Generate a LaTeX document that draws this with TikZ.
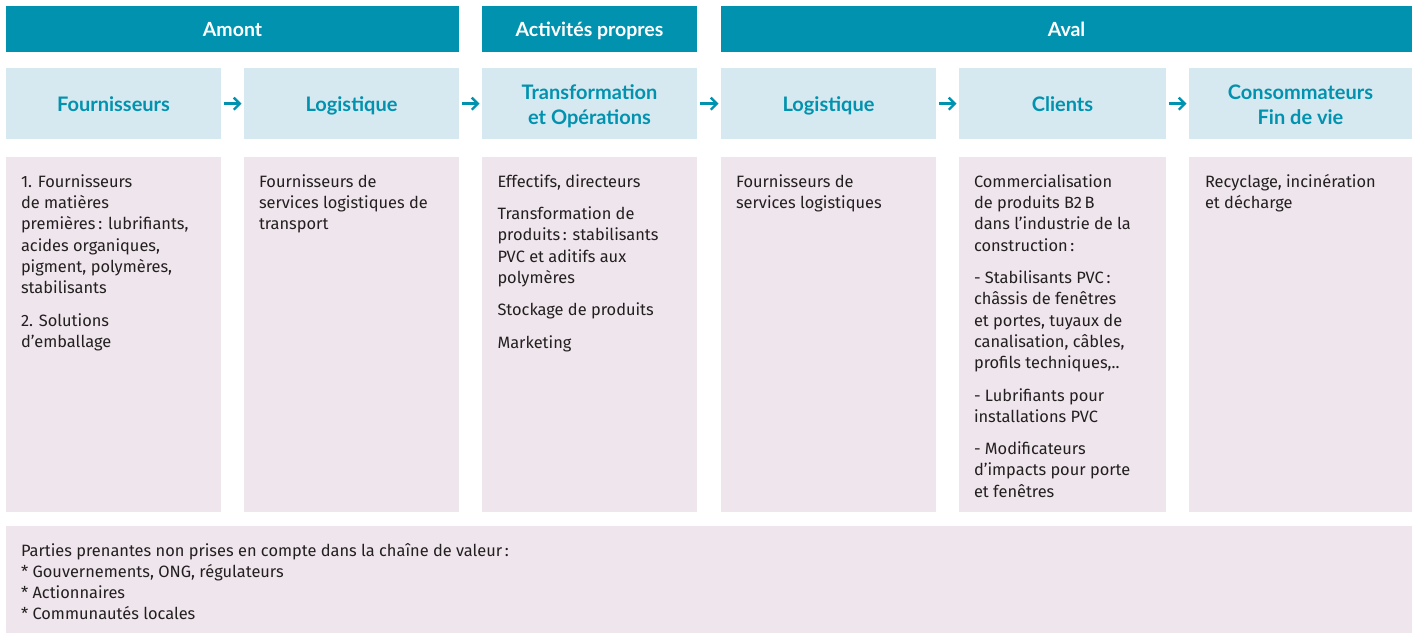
\documentclass[tikz,border=0pt]{standalone}
\usepackage{fontspec}
\setmainfont{Lato}
\newfontfamily\bodyfont{Fira Sans}
\usetikzlibrary{arrows.meta}
\definecolor{tealc}{RGB}{0,146,174}
\definecolor{headbg}{RGB}{214,232,240}
\definecolor{bodybg}{RGB}{239,229,236}
\definecolor{txt}{RGB}{35,31,32}
\tikzset{
  box/.style={inner sep=0pt, outer sep=0pt, anchor=north west},
  barbox/.style={box, fill=tealc, text=white, text height=16pt, text depth=0pt,
     font=\bfseries\fontsize{19.5}{24}\selectfont},
  headbox/.style={box, fill=headbg},
  headtext/.style={inner sep=0pt, outer sep=0pt, text=tealc, align=center, yshift=-3.2pt,
     font=\bfseries\fontsize{20}{25}\selectfont},
  bodybox/.style={box, fill=bodybg},
  bodytext/.style={inner sep=0pt, outer sep=0pt, anchor=north west, align=left, text=txt,
     font=\bodyfont\fontsize{16.4}{21.3}\selectfont, execute at begin node=\strut},
  arr/.style={draw=tealc, line width=2.4pt, -{Straight Barb[length=6pt,width=12pt,line width=2.4pt]},
     shorten <=2.5pt, shorten >=2.5pt}
}
\begin{document}
\begin{tikzpicture}[x=1pt,y=-1pt]
\useasboundingbox (0,0) rectangle (1416,633);
% top bars
\node[barbox, minimum width=453pt, minimum height=46pt] (amont) at (6,5.7) {Amont};
\node[barbox, minimum width=215pt, minimum height=46pt] (act) at (482,5.7) {Activités propres};
\node[barbox, minimum width=691pt, minimum height=46pt] (aval) at (721,5.7) {Aval};
% header row
\node[headbox, minimum width=215pt, minimum height=71.3pt, label={[headtext]center:\strut Fournisseurs}] (h1) at (6,68) {};
\node[headbox, minimum width=215pt, minimum height=71.3pt, label={[headtext]center:\strut Logistique}] (h2) at (244,68) {};
\node[headbox, minimum width=215pt, minimum height=71.3pt, label={[headtext]center:\strut Transformation\\\strut et Opérations}] (h3) at (482,68) {};
\node[headbox, minimum width=215pt, minimum height=71.3pt, label={[headtext]center:\strut Logistique}] (h4) at (721,68) {};
\node[headbox, minimum width=207pt, minimum height=71.3pt, label={[headtext]center:\strut Clients}] (h5) at (959,68) {};
\node[headbox, minimum width=223pt, minimum height=71.3pt, label={[headtext]center:\strut Consommateurs\\\strut Fin de vie}] (h6) at (1189,68) {};
% arrows
\draw[arr] (h1) -- (h2);
\draw[arr] (h2) -- (h3);
\draw[arr] (h3) -- (h4);
\draw[arr] (h4) -- (h5);
\draw[arr] (h5) -- (h6);
% body boxes
\node[bodybox, minimum width=215pt, minimum height=355pt] (b1) at (6,157) {};
\node[bodybox, minimum width=215pt, minimum height=355pt] (b2) at (244,157) {};
\node[bodybox, minimum width=215pt, minimum height=355pt] (b3) at (482,157) {};
\node[bodybox, minimum width=215pt, minimum height=355pt] (b4) at (721,157) {};
\node[bodybox, minimum width=207pt, minimum height=355pt] (b5) at (959,157) {};
\node[bodybox, minimum width=223pt, minimum height=355pt] (b6) at (1189,157) {};
\node[bodybox, minimum width=1406pt, minimum height=106.5pt] (bot) at (6,526) {};
% body texts
\node[bodytext] (t1) at ([shift={(15,17.5)}]b1.north west) {1. Fournisseurs\\de matières\\premières\,: lubrifiants,\\acides organiques,\\pigment, polymères,\\stabilisants\\[11pt]2. Solutions\\d’emballage};
\node[bodytext] (t2) at ([shift={(15,17.5)}]b2.north west) {Fournisseurs de\\services logistiques de\\transport};
\node[bodytext] (t3) at ([shift={(15.5,17.5)}]b3.north west) {Effectifs, directeurs\\[11pt]Transformation de\\produits\,: stabilisants\\PVC et aditifs aux\\polymères\\[11pt]Stockage de produits\\[11pt]Marketing};
\node[bodytext] (t4) at ([shift={(15,17.5)}]b4.north west) {Fournisseurs de\\services logistiques};
\node[bodytext] (t5) at ([shift={(15,17.5)}]b5.north west) {Commercialisation\\de produits B2\,B\\dans l’industrie de la\\construction\,:\\[11pt]- Stabilisants PVC\,:\\châssis de fenêtres\\et portes, tuyaux de\\canalisation, câbles,\\profils techniques,..\\[11pt]- Lubrifiants pour\\installations PVC\\[11pt]- Modificateurs\\d’impacts pour porte\\et fenêtres};
\node[bodytext] (t6) at ([shift={(16,17.5)}]b6.north west) {Recyclage, incinération\\et décharge};
\node[bodytext] (t7) at ([shift={(15,17)}]bot.north west) {Parties prenantes non prises en compte dans la chaîne de valeur\,:\\* Gouvernements, ONG, régulateurs\\* Actionnaires\\* Communautés locales};
\end{tikzpicture}
\end{document}
